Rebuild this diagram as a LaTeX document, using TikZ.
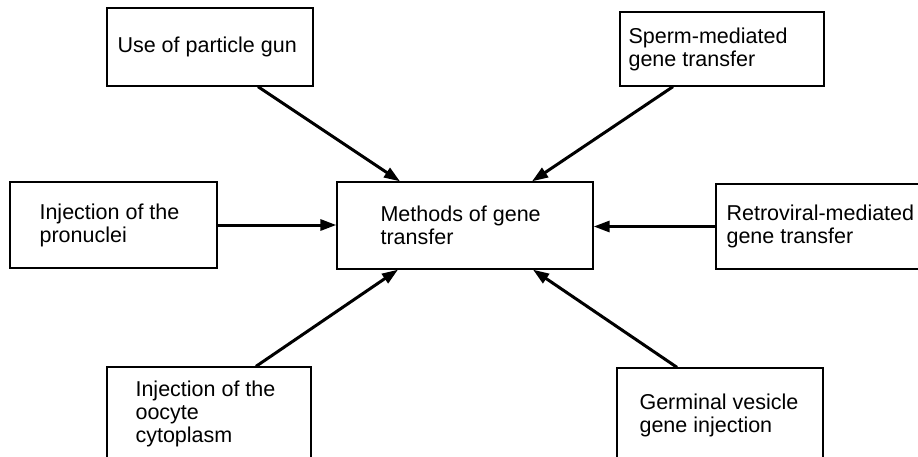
\documentclass[tikz,border=0pt]{standalone}
\usepackage{fontspec}
\setmainfont{Liberation Sans}
\usetikzlibrary{arrows.meta}

\begin{document}
\begin{tikzpicture}[
    x=1pt, y=-1pt,
    box/.style={rectangle, draw=black, line width=1.3pt, inner sep=0pt},
    txt/.style={anchor=west, align=left, inner sep=0pt, font=\fontsize{21.5}{23}\selectfont},
    arrow/.style={-{Triangle[length=16pt, width=11pt]}, line width=3pt}
]
    \clip (0,0) rectangle (918,456);

    % Boxes
    \node[box, minimum width=206pt, minimum height=78pt] (gun) at (210,47) {};
    \node[box, minimum width=204pt, minimum height=74pt] (sperm) at (722,49) {};
    \node[box, minimum width=207pt, minimum height=86pt] (pronuclei) at (113.5,225) {};
    \node[box, minimum width=256pt, minimum height=87pt] (methods) at (465,225.5) {};
    \node[box, minimum width=224pt, minimum height=85pt] (retro) at (828,226.5) {};
    \node[box, minimum width=204pt, minimum height=94pt] (oocyte) at (209,414) {};
    \node[box, minimum width=206pt, minimum height=94pt] (vesicle) at (720,415) {};

    % Labels
    \node[txt] (gun-t) at ([xshift=11pt]gun.west) {Use of particle gun};
    \node[txt] (sperm-t) at ([xshift=9pt]sperm.west) {Sperm-mediated\\gene transfer};
    \node[txt] (pronuclei-t) at ([xshift=30pt]pronuclei.west) {Injection of the\\pronuclei};
    \node[txt] (methods-t) at ([xshift=44pt]methods.west) {Methods of gene\\transfer};
    \node[txt] (retro-t) at ([xshift=11pt]retro.west) {Retroviral-mediated\\gene transfer};
    \node[txt] (oocyte-t) at ([xshift=29pt]oocyte.west) {Injection of the\\oocyte\\cytoplasm};
    \node[txt] (vesicle-t) at ([xshift=23pt]vesicle.west) {Germinal vesicle\\gene injection};

    % Edges
    \draw[arrow] ([xshift=48pt]gun.south) -- ([xshift=-65pt]methods.north);
    \draw[arrow] ([xshift=-49pt]sperm.south) -- ([xshift=67pt]methods.north);
    \draw[arrow] (pronuclei.east) -- (pronuclei.east -| methods.west);
    \draw[arrow] (retro.west) -- (retro.west -| methods.east);
    \draw[arrow] ([xshift=47pt]oocyte.north) -- ([xshift=-67pt]methods.south);
    \draw[arrow] ([xshift=-43pt]vesicle.north) -- ([xshift=68pt]methods.south);
\end{tikzpicture}
\end{document}
